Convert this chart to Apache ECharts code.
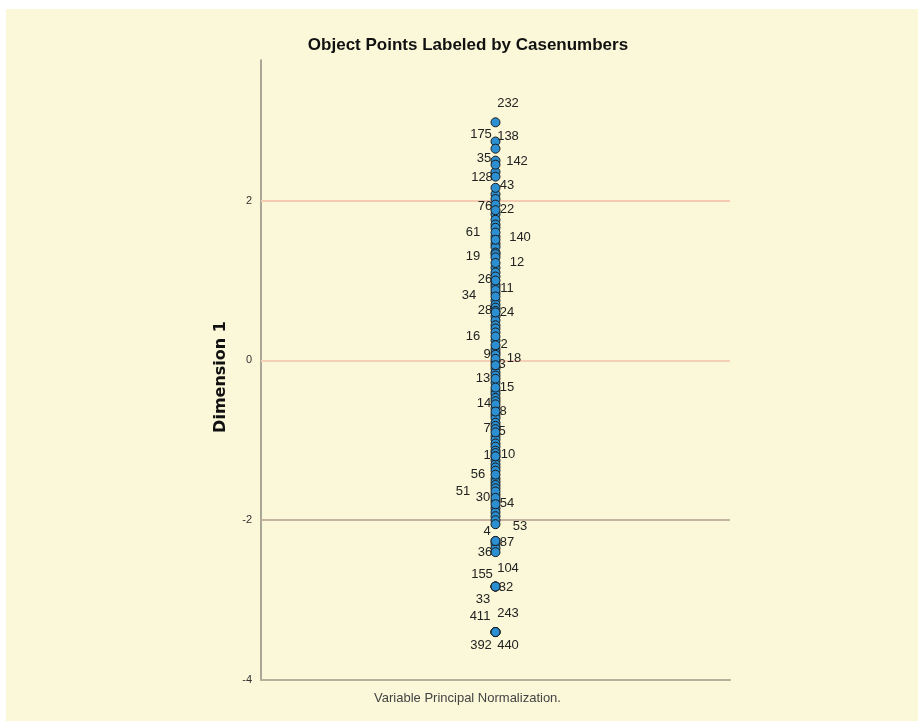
<!DOCTYPE html>
<html>
<head>
<meta charset="utf-8">
<script src="https://cdn.jsdelivr.net/npm/echarts@6/dist/echarts.min.js"></script>
<style>
html,body{margin:0;padding:0;background:#fff;}
#c{width:918px;height:721px;}
</style>
</head>
<body>
<div id="c"></div>
<script>
// Labeled object points: case number and Dimension 1 score
const caseNumbers = ['232','175','138','35','142','128','43','76','22','61','140','19','12','26','11','34','28','24','16','2','9','18','3','13','15','14','8','7','5','1','10','56','51','30','54','53','4','87','36','104','155','32','33','243','411','392','440'];
const caseValues = [2.98,2.74,2.65,2.5,2.45,2.3,2.16,1.95,1.88,1.6,1.51,1.29,1.22,1.0,0.88,0.8,0.62,0.6,0.3,0.19,0.07,0.02,-0.06,-0.23,-0.34,-0.55,-0.64,-0.86,-0.9,-1.2,-1.2,-1.43,-1.64,-1.72,-1.8,-2.05,-2.26,-2.26,-2.4,-2.83,-2.83,-2.83,-2.83,-3.4,-3.4,-3.4,-3.4];
// Unlabeled object points in the dense column
const columnValues = [2.36,2.08,2.02,1.83,1.76,1.7,1.66,1.55,1.46,1.42,1.35,1.33,1.16,1.1,1.05,0.95,0.92,0.84,0.75,0.7,0.66,0.55,0.5,0.44,0.4,0.35,0.25,0.14,0.1,-0.02,-0.1,-0.15,-0.19,-0.28,-0.38,-0.42,-0.47,-0.51,-0.6,-0.68,-0.72,-0.78,-0.82,-0.95,-0.99,-1.04,-1.08,-1.13,-1.16,-1.25,-1.3,-1.34,-1.38,-1.48,-1.52,-1.56,-1.6,-1.68,-1.76,-1.85,-1.9,-1.95,-2.0,-2.3,-2.35];
const dimension2 = 0; // all points share the same horizontal position
const yTicks = [-4,-2,0,2];
const refLines = [2,0,-2];

// label placement (pixels relative to marker centre) - layout only
const labelOffsets = [[13,-18],[-14,-7],[13,-12],[-11,-2],[22,-3],[-13,1],[12,-2],[-10,2],[12,0],[-22,0],[25,-2],[-22,0],[22,0],[-10,-1],[12,-1],[-26,-1],[-10,0],[12,0],[-22,0],[9,0],[-8,0],[19,0],[7,0],[-12,0],[12,0],[-11,0],[8,0],[-8,0],[7,0],[-8,0],[13,-1],[-17,0],[-32,0],[-12,0],[12,0],[25,3],[-8,-9],[12,2],[-10,1],[13,-18],[-13,-12],[11,1],[-12,13],[13,-18],[-15,-15],[-14,14],[13,14]];
const refColors = ['#f4cbb0','#f5cfb6','#c8b2a0'];

const SYM = 9;
const sans = '"Liberation Sans", Arial, sans-serif';

const chart = echarts.init(document.getElementById('c'), null, {renderer:'canvas'});

const labeledData = caseNumbers.map((c, i) => ({
  value: [dimension2, caseValues[i]],
  name: c,
  label: {position: [SYM / 2 + labelOffsets[i][0], SYM / 2 + labelOffsets[i][1]]}
}));
const columnData = columnValues.map(v => [dimension2, v]);

chart.setOption({
  backgroundColor: '#ffffff',
  animation: false,
  graphic: [{
    type: 'rect', left: 6, top: 9, z: -10,
    shape: {width: 912, height: 712},
    style: {fill: '#faf8d8'}
  }],
  title: {
    text: 'Object Points Labeled by Casenumbers',
    left: 463, top: 32, textAlign: 'center',
    textStyle: {fontFamily: sans, fontWeight: 'bold', fontSize: 17, color: '#111'}
  },
  grid: {left: 261, right: 188, top: 60, bottom: 41, containLabel: false},
  xAxis: {
    type: 'value', min: -1, max: 1,
    name: 'Variable Principal Normalization.',
    nameLocation: 'middle', nameGap: 12,
    nameTextStyle: {fontFamily: sans, fontSize: 13, color: '#444', padding: [0, 56, 0, 0]},
    axisLine: {show: true, onZero: false, lineStyle: {color: '#b7ae9c', width: 2}},
    axisTick: {show: false}, axisLabel: {show: false}, splitLine: {show: false}
  },
  yAxis: {
    type: 'value', min: -4, max: 3.76, interval: 2,
    name: 'Dimension 1', nameLocation: 'middle', nameGap: 32, nameRotate: 90,
    nameTextStyle: {fontFamily: 'DejaVu Sans, sans-serif', fontWeight: 'bold', fontSize: 16, color: '#111', padding: [0, 0, 0, -14]},
    axisLine: {show: true, onZero: false, lineStyle: {color: '#8d8b82', width: 1.5}},
    axisTick: {show: false},
    axisLabel: {
      margin: 9, fontFamily: sans, fontSize: 11, color: '#333',
      formatter: v => (yTicks.indexOf(v) >= 0 ? String(v) : '')
    },
    splitLine: {show: false}
  },
  series: [
    {
      type: 'scatter', name: 'refs', data: [], silent: true, z: 1,
      markLine: {
        silent: true, symbol: 'none', label: {show: false}, animation: false, z: 1,
        data: refLines.map((v, i) => ({yAxis: v, lineStyle: {color: refColors[i], width: 2, type: 'solid'}}))
      }
    },
    {
      type: 'scatter', name: 'column', data: columnData, z: 3,
      symbol: 'circle', symbolSize: SYM,
      itemStyle: {color: '#2b8fd2', borderColor: '#1b1b1b', borderWidth: 1, opacity: 1}
    },
    {
      type: 'scatter', name: 'labeled', data: labeledData, z: 4,
      symbol: 'circle', symbolSize: SYM,
      itemStyle: {color: '#2b8fd2', borderColor: '#1b1b1b', borderWidth: 1, opacity: 1},
      label: {
        show: true, formatter: p => p.name,
        fontFamily: sans, fontSize: 13, color: '#222', align: 'center', verticalAlign: 'middle'
      },
      labelLayout: {hideOverlap: false}
    }
  ]
});
</script>
</body>
</html>
